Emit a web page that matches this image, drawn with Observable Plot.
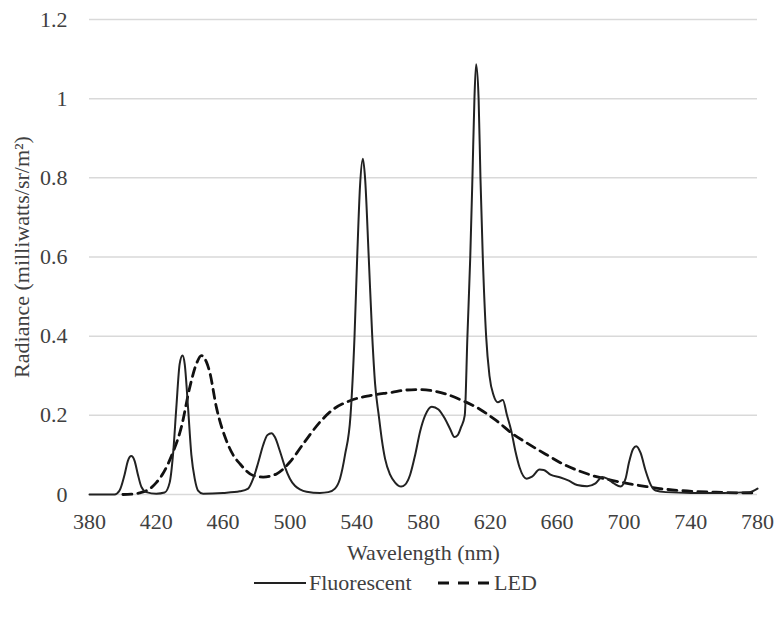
<!DOCTYPE html>
<html><head><meta charset="utf-8">
<script src="https://cdn.jsdelivr.net/npm/d3@7"></script>
<script src="https://cdn.jsdelivr.net/npm/@observablehq/plot@0.6"></script>
<style>
body{margin:0;background:#fff;}
#wrap{position:relative;width:778px;height:623px;font-family:"Liberation Serif","Times New Roman",serif;color:#404040;}
#legend{position:absolute;top:570px;left:0;width:778px;height:26px;font-size:22px;}
#legend .item{position:absolute;top:0;height:26px;line-height:26px;white-space:nowrap;}
#legend svg{position:absolute;top:0;}
</style></head><body>
<div id="wrap"><div id="chart"></div>
<div id="legend">
  <svg style="left:254px" width="52" height="26"><line x1="0" x2="52" y1="13" y2="13" stroke="#222" stroke-width="2"/></svg>
  <span class="item" style="left:309px">Fluorescent</span>
  <svg style="left:438px" width="51" height="26"><line x1="0" x2="51" y1="13" y2="13" stroke="#111" stroke-width="3" stroke-dasharray="11,9"/></svg>
  <span class="item" style="left:494px">LED</span>
</div></div>
<script>
const fluorWavelength = [380,390,395,398,401,403,405,407,409,411,414,420,425,428,430,432,434,435.7,437,439,441,443,445,448,460,470,475,478,481,484,486.5,489,491,494,497,500,503,506,510,518,523,527,530,533,536.3,538.7,540.3,542,543.7,545,547.2,549.3,551,553.2,555,557,560,563,566.6,569,572,575,578,581,585,589,593,596,598.5,600.5,602.5,604.7,606.3,608,609.3,610.5,611.5,613,614.1,615.5,617.5,619.5,622,624.5,627.5,630,632.5,635,637.5,641.8,645,649.5,652,656,662,667,672,678,683,687,690,694,698,701,703,705.5,707.4,710,713,716,719,725,740,760,775,780];
const fluorRadiance = [0,0,0,0.01,0.05,0.085,0.097,0.085,0.05,0.02,0.006,0.002,0.005,0.03,0.1,0.22,0.33,0.351,0.33,0.22,0.1,0.04,0.01,0.002,0.004,0.008,0.015,0.04,0.08,0.125,0.15,0.155,0.145,0.11,0.07,0.04,0.022,0.013,0.007,0.004,0.006,0.015,0.04,0.1,0.2,0.4,0.6,0.78,0.848,0.8,0.6,0.4,0.28,0.2,0.14,0.09,0.05,0.03,0.02,0.025,0.05,0.1,0.16,0.2,0.222,0.215,0.19,0.165,0.145,0.15,0.17,0.2,0.4,0.6,0.8,1.0,1.087,1.0,0.8,0.6,0.4,0.3,0.25,0.233,0.239,0.2,0.162,0.11,0.069,0.04,0.045,0.063,0.062,0.05,0.043,0.035,0.024,0.021,0.028,0.044,0.04,0.028,0.02,0.04,0.08,0.115,0.122,0.105,0.06,0.025,0.01,0.006,0.004,0.004,0.006,0.015];
const ledWavelength = [400,405,410,416,420,424,430,435,440,444,447,450,452,456,462,466,470,478,484,492,500,508,518,525,536,548,561,570,577,584,594,603.5,613.5,623.5,633.5,643.5,653.5,663.5,673.5,683.5,693.5,703.5,713.5,723.5,733.5,753.5,773.5,780];
const ledRadiance = [0,0.001,0.004,0.014,0.03,0.053,0.107,0.17,0.27,0.33,0.351,0.335,0.309,0.22,0.136,0.1,0.078,0.048,0.044,0.052,0.082,0.128,0.183,0.212,0.237,0.25,0.258,0.264,0.265,0.263,0.253,0.237,0.216,0.187,0.153,0.126,0.101,0.077,0.059,0.045,0.035,0.027,0.02,0.014,0.01,0.006,0.004,0.004];
const xTicks = [380,420,460,500,540,580,620,660,700,740,780];
const yTicks = [0,0.2,0.4,0.6,0.8,1,1.2];

const fluor = fluorWavelength.map((w,i)=>({w, r: fluorRadiance[i]}));
const led = ledWavelength.map((w,i)=>({w, r: ledRadiance[i]}));

const chart = Plot.plot({
  width: 778, height: 575,
  marginLeft: 89, marginRight: 21, marginTop: 19, marginBottom: 81,
  style: {fontFamily: '"Liberation Serif","Times New Roman",serif', fontSize: "22px", color: "#404040", background: "#fff"},
  x: {domain: [380, 780]},
  y: {domain: [0, 1.2]},
  marks: [
    Plot.gridY(yTicks, {stroke: "#d9d9d9", strokeOpacity: 1, strokeWidth: 1.5}),
    Plot.axisY(yTicks, {tickSize: 0, tickPadding: 22, tickFormat: d => String(+d.toFixed(1)),
      label: "Radiance (milliwatts/sr/m²)", labelAnchor: "center", labelArrow: "none", labelOffset: 76}),
    Plot.axisX(xTicks, {tickSize: 0, tickPadding: 19, tickFormat: d => String(d),
      label: "Wavelength (nm)", labelAnchor: "center", labelArrow: "none", labelOffset: 65}),
    Plot.line(led, {x: "w", y: "r", stroke: "#111", strokeWidth: 2.8, strokeDasharray: "9,6", curve: "monotone-x"}),
    Plot.line(fluor, {x: "w", y: "r", stroke: "#222", strokeWidth: 2, curve: "monotone-x"})
  ]
});
document.getElementById("chart").appendChild(chart);
</script>
</body></html>
